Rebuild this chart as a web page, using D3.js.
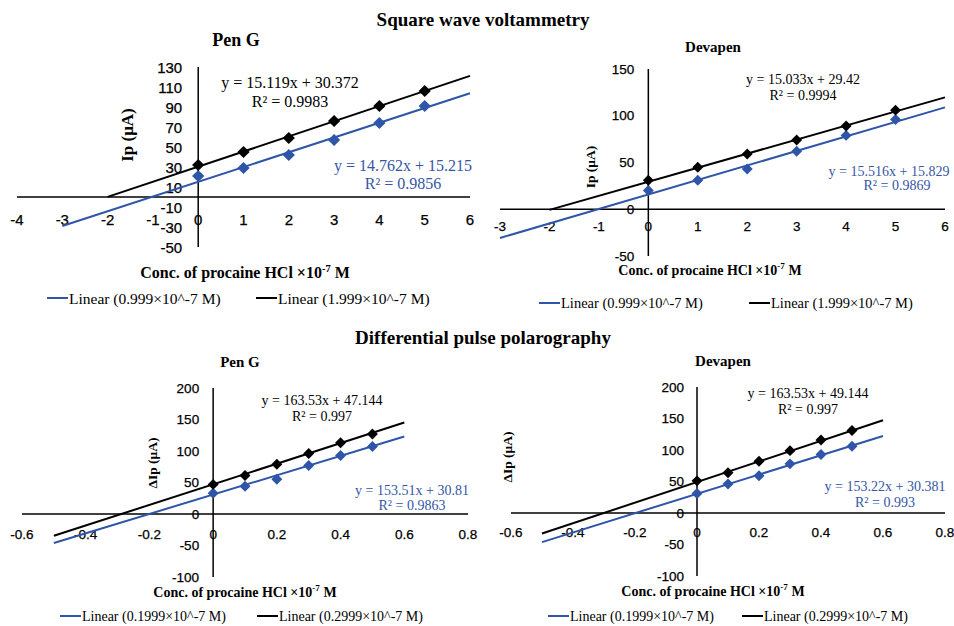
<!DOCTYPE html>
<html>
<head>
<meta charset="utf-8">
<script src="https://cdn.jsdelivr.net/npm/d3@7"></script>
<style>
  body { margin: 0; background: #fff; }
  svg { display: block; }
</style>
</head>
<body>
<svg id="chart" width="954" height="626"></svg>
<script>
// ---------------- data ----------------
const mainTitles = ["Square wave voltammetry", "Differential pulse polarography"];
const panelTitles = ["Pen G", "Devapen", "Pen G", "Devapen"];

const swvX = [0, 1, 2, 3, 4, 5];
const dppX = [0, 0.1, 0.2, 0.3, 0.4, 0.5];

// Square wave voltammetry – Pen G
const swvPenLow  = [21, 29, 42, 57, 74, 91];
const swvPenHigh = [32, 45, 59, 76, 91, 106];
// Square wave voltammetry – Devapen
const swvDevLow  = [20, 31, 43, 62, 79, 96];
const swvDevHigh = [31, 45, 59, 74, 89, 106];
// Differential pulse polarography – Pen G
const dppPenLow  = [33, 44, 55, 77, 93, 107];
const dppPenHigh = [47, 61, 79, 96, 113, 127];
// Differential pulse polarography – Devapen
const dppDevLow  = [31, 46, 59, 78, 93, 106];
const dppDevHigh = [51, 64, 82, 99, 116, 131];

// linear trend fits [slope, intercept, R²]
const fitSwvPenLow  = [14.762, 15.215, "0.9856"];
const fitSwvPenHigh = [15.119, 30.372, "0.9983"];
const fitSwvDevLow  = [15.516, 15.829, "0.9869"];
const fitSwvDevHigh = [15.033, 29.42, "0.9994"];
const fitDppPenLow  = [153.51, 30.81, "0.9863"];
const fitDppPenHigh = [163.53, 47.144, "0.997"];
const fitDppDevLow  = [153.22, 30.381, "0.993"];
const fitDppDevHigh = [163.53, 49.144, "0.997"];

// trendline extents (forecast backward/forward)
const swvPenLowExt  = [-3, 6];
const swvPenHighExt = [-2, 6];
const swvDevLowExt  = [-3, 6];
const swvDevHighExt = [-2, 6];
const dppExt        = [-0.5, 0.6];

// tick values
const swvPenXTicks = [-4, -3, -2, -1, 0, 1, 2, 3, 4, 5, 6];
const swvPenYTicks = [-50, -30, -10, 10, 30, 50, 70, 90, 110, 130];
const swvDevXTicks = [-3, -2, -1, 0, 1, 2, 3, 4, 5, 6];
const swvDevYTicks = [-50, 0, 50, 100, 150];
const dppXTicks    = [-0.6, -0.4, -0.2, 0, 0.2, 0.4, 0.6, 0.8];
const dppYTicks    = [-100, -50, 0, 50, 100, 150, 200];

const swvLegend = ["Linear (0.999×10^-7 M)", "Linear (1.999×10^-7 M)"];
const dppLegend = ["Linear (0.1999×10^-7 M)", "Linear (0.2999×10^-7 M)"];

// ---------------- styles ----------------
const BLUE = "#2f55a8";
const BLUE_TXT = "#3556a6";
const BLACK = "#000";
const SERIF = "'Liberation Serif', 'Times New Roman', serif";
const SANS = "'Liberation Sans', Arial, sans-serif";

const svg = d3.select("#chart");

svg.append("text").attr("x", 483).attr("y", 26).attr("text-anchor", "middle")
  .style("font-family", SERIF).style("font-weight", "bold").style("font-size", "19px")
  .text(mainTitles[0]);
svg.append("text").attr("x", 483).attr("y", 344).attr("text-anchor", "middle")
  .style("font-family", SERIF).style("font-weight", "bold").style("font-size", "19px")
  .text(mainTitles[1]);

function fmt(v) {
  return String(+v.toFixed(2));
}

function panel(cfg) {
  const g = svg.append("g");
  const x = d3.scaleLinear().domain(cfg.xDomain).range(cfg.xRange);
  const y = d3.scaleLinear().domain(cfg.yDomain).range(cfg.yRange);
  const x0 = x(0), y0 = y(0);

  // title
  g.append("text").attr("x", cfg.title[0]).attr("y", cfg.title[1]).attr("text-anchor", "middle")
    .style("font-family", SERIF).style("font-weight", "bold").style("font-size", cfg.titleSize + "px")
    .text(cfg.titleText);

  // axes lines
  g.append("line").attr("x1", cfg.xRange[0]).attr("x2", cfg.xRange[1]).attr("y1", y0).attr("y2", y0)
    .attr("stroke", "#000").attr("stroke-width", 1.5);
  g.append("line").attr("x1", x0).attr("x2", x0).attr("y1", cfg.yRange[0]).attr("y2", cfg.yRange[1])
    .attr("stroke", "#000").attr("stroke-width", 1.5);

  // tick labels
  g.selectAll(".xt").data(cfg.xTicks).join("text")
    .attr("x", d => x(d)).attr("y", y0 + cfg.xLabOff)
    .attr("text-anchor", "middle").attr("dominant-baseline", "central")
    .style("font-family", SANS).style("font-size", cfg.tickSize + "px").attr("fill", "#000")
    .attr("stroke", "#000").attr("stroke-width", 0.25)
    .text(fmt);
  g.selectAll(".yt").data(cfg.yTicks).join("text")
    .attr("x", x0 - cfg.yLabOff).attr("y", d => y(d))
    .attr("text-anchor", "end").attr("dominant-baseline", "central")
    .style("font-family", SANS).style("font-size", cfg.tickSize + "px").attr("fill", "#000")
    .attr("stroke", "#000").attr("stroke-width", 0.25)
    .text(fmt);

  // axis titles
  const xt = g.append("text").attr("x", cfg.xTitle[0]).attr("y", cfg.xTitle[1]).attr("text-anchor", "middle")
    .style("font-family", SERIF).style("font-weight", "bold").style("font-size", cfg.axTitleSize + "px");
  xt.append("tspan").text("Conc.  of procaine  HCl ×10");
  xt.append("tspan").attr("dy", -cfg.axTitleSize * 0.4).style("font-size", (cfg.axTitleSize * 0.65) + "px").text("-7");
  xt.append("tspan").attr("dy", cfg.axTitleSize * 0.4).text(" M");

  g.append("text").attr("transform", `translate(${cfg.yTitle[0]},${cfg.yTitle[1]}) rotate(-90)`)
    .attr("text-anchor", "middle").attr("dominant-baseline", "central")
    .style("font-family", SERIF).style("font-weight", "bold").style("font-size", cfg.yTitleSize + "px")
    .text(cfg.yTitleText);

  // series
  const series = [
    { vals: cfg.low, fit: cfg.fitLow, ext: cfg.extLow, color: BLUE },
    { vals: cfg.high, fit: cfg.fitHigh, ext: cfg.extHigh, color: BLACK }
  ];
  series.forEach(s => {
    const pts = s.ext.map(v => [v, s.fit[0] * v + s.fit[1]]);
    g.append("path").datum(pts)
      .attr("d", d3.line().x(d => x(d[0])).y(d => y(d[1])))
      .attr("fill", "none").attr("stroke", s.color).attr("stroke-width", 2);
    g.selectAll(null).data(cfg.xs.map((v, i) => [v, s.vals[i]])).join("path")
      .attr("d", d3.symbol(d3.symbolSquare, cfg.marker))
      .attr("transform", d => `translate(${x(d[0])},${y(d[1])}) rotate(45)`)
      .attr("fill", s.color);
  });

  // equation labels
  function eq(fit, pos, color, anchor) {
    const t = g.append("text").attr("text-anchor", anchor)
      .style("font-family", SERIF).style("font-size", cfg.eqSize + "px").attr("fill", color);
    t.append("tspan").attr("x", pos[0]).attr("y", pos[1]).text(`y = ${fit[0]}x + ${fit[1]}`);
    t.append("tspan").attr("x", pos[2]).attr("y", pos[3]).text(`R² = ${fit[2]}`);
  }
  eq(cfg.fitHigh, cfg.eqHigh, BLACK, "middle");
  eq(cfg.fitLow, cfg.eqLow, BLUE_TXT, "middle");

  // legend
  const leg = [[cfg.legend[0], BLUE, cfg.legPos[0]], [cfg.legend[1], BLACK, cfg.legPos[1]]];
  leg.forEach(([txt, col, lx]) => {
    g.append("line").attr("x1", lx).attr("x2", lx + 21).attr("y1", cfg.legY).attr("y2", cfg.legY)
      .attr("stroke", col).attr("stroke-width", 2);
    g.append("text").attr("x", lx + 22).attr("y", cfg.legY).attr("dominant-baseline", "central")
      .style("font-family", SERIF).style("font-size", cfg.legSize + "px").text(txt);
  });
}

panel({
  titleText: panelTitles[0], title: [236, 46], titleSize: 18,
  xDomain: [-4, 6], xRange: [17, 470], yDomain: [-50, 130], yRange: [247, 67],
  xTicks: swvPenXTicks, yTicks: swvPenYTicks, xLabOff: 22, yLabOff: 16, tickSize: 15,
  xTitle: [245, 278], axTitleSize: 16, yTitle: [127, 135], yTitleSize: 17, yTitleText: "Ip (μA)",
  xs: swvX, low: swvPenLow, high: swvPenHigh, fitLow: fitSwvPenLow, fitHigh: fitSwvPenHigh,
  extLow: swvPenLowExt, extHigh: swvPenHighExt, marker: 75,
  eqSize: 16, eqHigh: [290, 88, 290, 107], eqLow: [403, 171, 403, 189],
  legend: swvLegend, legPos: [47, 256], legY: 298, legSize: 15.5
});

panel({
  titleText: panelTitles[1], title: [713, 52], titleSize: 15,
  xDomain: [-3, 6], xRange: [500, 945], yDomain: [-50, 150], yRange: [256, 69],
  xTicks: swvDevXTicks, yTicks: swvDevYTicks, xLabOff: 17, yLabOff: 14, tickSize: 13.5,
  xTitle: [710, 275], axTitleSize: 14, yTitle: [590, 167], yTitleSize: 13.5, yTitleText: "Ip (μA)",
  xs: swvX, low: swvDevLow, high: swvDevHigh, fitLow: fitSwvDevLow, fitHigh: fitSwvDevHigh,
  extLow: swvDevLowExt, extHigh: swvDevHighExt, marker: 60,
  eqSize: 14, eqHigh: [803, 84, 803, 100], eqLow: [889, 176, 897, 190],
  legend: swvLegend, legPos: [539, 749], legY: 303, legSize: 14.5
});

panel({
  titleText: panelTitles[2], title: [240, 367], titleSize: 15,
  xDomain: [-0.6, 0.8], xRange: [22, 468], yDomain: [-100, 200], yRange: [577, 388],
  xTicks: dppXTicks, yTicks: dppYTicks, xLabOff: 20, yLabOff: 14, tickSize: 13.5,
  xTitle: [245, 597], axTitleSize: 14, yTitle: [152, 463], yTitleSize: 13.5, yTitleText: "ΔIp (μA)",
  xs: dppX, low: dppPenLow, high: dppPenHigh, fitLow: fitDppPenLow, fitHigh: fitDppPenHigh,
  extLow: dppExt, extHigh: dppExt, marker: 60,
  eqSize: 14, eqHigh: [322, 405, 322, 421], eqLow: [412, 495, 412, 510],
  legend: dppLegend, legPos: [60, 257], legY: 616, legSize: 14
});

panel({
  titleText: panelTitles[3], title: [723, 366], titleSize: 15,
  xDomain: [-0.6, 0.8], xRange: [511, 945], yDomain: [-100, 200], yRange: [576, 387],
  xTicks: dppXTicks, yTicks: dppYTicks, xLabOff: 19, yLabOff: 13, tickSize: 13.5,
  xTitle: [713, 596], axTitleSize: 14, yTitle: [507, 457], yTitleSize: 13.5, yTitleText: "ΔIp (μA)",
  xs: dppX, low: dppDevLow, high: dppDevHigh, fitLow: fitDppDevLow, fitHigh: fitDppDevHigh,
  extLow: dppExt, extHigh: dppExt, marker: 60,
  eqSize: 14, eqHigh: [808, 398, 808, 414], eqLow: [885, 491, 885, 507],
  legend: dppLegend, legPos: [548, 742], legY: 616, legSize: 14
});
</script>
</body>
</html>
